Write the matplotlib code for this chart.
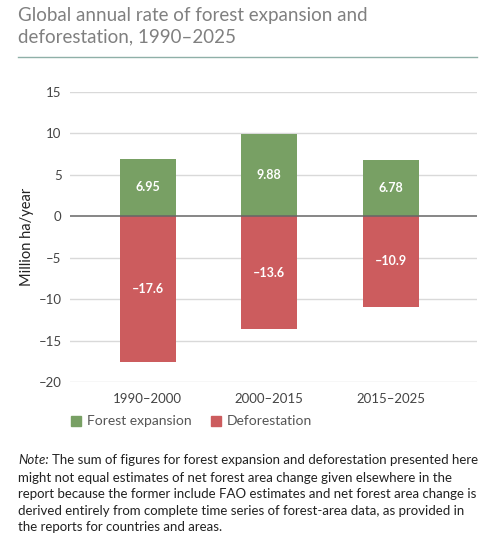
import numpy as np
import matplotlib.pyplot as plt

plt.rcParams['font.family'] = ['Lato', 'DejaVu Sans']

periods = ["1990–2000", "2000–2015", "2015–2025"]
expansion = [6.95, 9.88, 6.78]
deforestation = [-17.6, -13.6, -10.9]
exp_labels = ["6.95", "9.88", "6.78"]
def_labels = ["–17.6", "–13.6", "–10.9"]
yticks = [15, 10, 5, 0, -5, -10, -15, -20]

green = "#78a064"
red = "#cc5c5e"

fig = plt.figure(figsize=(4.91, 5.39), dpi=100)
W, H = 491, 539
ax = fig.add_axes([70 / W, 1 - 382 / H, (477 - 70) / W, (382 - 92) / H])

x = np.arange(len(periods))
bw = 0.46
b1 = ax.bar(x, expansion, width=bw, color=green, zorder=2)
b2 = ax.bar(x, deforestation, width=bw, color=red, zorder=2)

for bar, lab in zip(b1, exp_labels):
    ax.text(bar.get_x() + bar.get_width() / 2, bar.get_height() / 2, lab,
            ha='center', va='center', color='white', fontsize=9, fontweight='bold', zorder=3)
for bar, lab in zip(b2, def_labels):
    ax.text(bar.get_x() + bar.get_width() / 2, bar.get_height() / 2, lab,
            ha='center', va='center', color='white', fontsize=9, fontweight='bold', zorder=3)

ax.set_xlim(-0.64, 2.71)
ax.set_ylim(-20, 15)
ax.set_yticks(yticks)
ax.set_yticklabels([str(t).replace('-', '–') for t in yticks])
for t in yticks:
    if t != 0:
        ax.axhline(t, color='#d9d9d9', lw=1, zorder=1)
ax.axhline(0, color='#666666', lw=1.1, zorder=4)

ax.set_xticks(x)
ax.set_xticklabels(periods)
ax.tick_params(axis='both', length=0, labelsize=9.5, colors='#444444')
ax.tick_params(axis='x', pad=8)
ax.tick_params(axis='y', pad=6)
for s in ax.spines.values():
    s.set_visible(False)
ax.set_ylabel("Million ha/year", fontsize=10.5, color='#222222', labelpad=3)

# judul
fig.text(18 / W, 1 - 7 / H, "Global annual rate of forest expansion and\ndeforestation, 1990–2025",
         ha='left', va='top', fontsize=13.5, color='#808080', linespacing=1.3)
fig.add_artist(plt.Line2D([18 / W, 477 / W], [1 - 57 / H, 1 - 57 / H], color='#8fb0a8', lw=1))

# legenda
fig.patches.append(plt.Rectangle((71 / W, 1 - 426 / H), 10 / W, 10 / H, color=green, transform=fig.transFigure))
fig.text(87 / W, 1 - 421 / H, "Forest expansion", ha='left', va='center', fontsize=10, color='#555555')
fig.patches.append(plt.Rectangle((211 / W, 1 - 426 / H), 10 / W, 10 / H, color=red, transform=fig.transFigure))
fig.text(227 / W, 1 - 421 / H, "Deforestation", ha='left', va='center', fontsize=10, color='#555555')

# catatan
lines = ["The sum of figures for forest expansion and deforestation presented here",
         "might not equal estimates of net forest area change given elsewhere in the",
         "report because the former include FAO estimates and net forest area change is",
         "derived entirely from complete time series of forest-area data, as provided in",
         "the reports for countries and areas."]
top = 1 - 454 / H
nt = fig.text(18 / W, top, "Note:", ha='left', va='top', fontsize=9.5, color='#222222', style='italic')
fig.canvas.draw()
bb = nt.get_window_extent(fig.canvas.get_renderer())
x1 = bb.x1 / fig.bbox.width + 3 / W
fig.text(x1, top, lines[0], ha='left', va='top', fontsize=9.5, color='#222222')
fig.text(18 / W, top - 17.8 / H, "\n".join(lines[1:]),
         ha='left', va='top', fontsize=9.5, color='#222222', linespacing=1.45)

fig.savefig("out.png", dpi=100)
